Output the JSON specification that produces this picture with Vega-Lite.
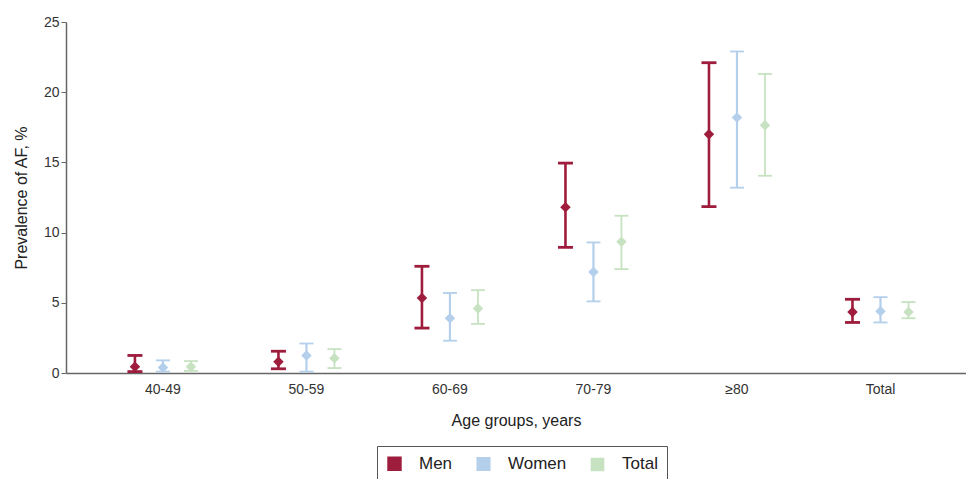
{
  "$schema": "https://vega.github.io/schema/vega-lite/v6.json",
  "autosize": {"type": "none"},
  "padding": {"left": 66, "top": 22, "right": 0, "bottom": 106},
  "width": 900,
  "height": 351,
  "background": "white",
  "config": {
    "font": "Liberation Sans",
    "view": {"stroke": null}
  },
  "data": {
    "values": [
      {"age": "40-49", "group": "Men", "est": 0.45, "lo": 0.1, "hi": 1.25},
      {"age": "40-49", "group": "Women", "est": 0.4, "lo": 0.1, "hi": 0.9},
      {"age": "40-49", "group": "Total", "est": 0.45, "lo": 0.15, "hi": 0.85},
      {"age": "50-59", "group": "Men", "est": 0.8, "lo": 0.3, "hi": 1.55},
      {"age": "50-59", "group": "Women", "est": 1.25, "lo": 0.1, "hi": 2.1},
      {"age": "50-59", "group": "Total", "est": 1.05, "lo": 0.35, "hi": 1.7},
      {"age": "60-69", "group": "Men", "est": 5.35, "lo": 3.2, "hi": 7.6},
      {"age": "60-69", "group": "Women", "est": 3.9, "lo": 2.3, "hi": 5.7},
      {"age": "60-69", "group": "Total", "est": 4.6, "lo": 3.5, "hi": 5.9},
      {"age": "70-79", "group": "Men", "est": 11.8, "lo": 8.95, "hi": 14.95},
      {"age": "70-79", "group": "Women", "est": 7.2, "lo": 5.1, "hi": 9.3},
      {"age": "70-79", "group": "Total", "est": 9.35, "lo": 7.4, "hi": 11.2},
      {"age": "≥80", "group": "Men", "est": 17.0, "lo": 11.85, "hi": 22.1},
      {"age": "≥80", "group": "Women", "est": 18.2, "lo": 13.2, "hi": 22.9},
      {"age": "≥80", "group": "Total", "est": 17.65, "lo": 14.05, "hi": 21.3},
      {"age": "Total", "group": "Men", "est": 4.35, "lo": 3.6, "hi": 5.25},
      {"age": "Total", "group": "Women", "est": 4.4, "lo": 3.6, "hi": 5.4},
      {"age": "Total", "group": "Total", "est": 4.35, "lo": 3.9, "hi": 5.05}
    ]
  },
  "encoding": {
    "x": {
      "field": "age", "type": "nominal", "sort": null,
      "scale": {"paddingInner": 0.4146, "paddingOuter": 0.343, "align": 0.558},
      "axis": {
        "title": "Age groups, years", "labelAngle": 0, "ticks": false,
        "domainColor": "#666", "domainWidth": 1.5, "labelColor": "#333", "labelFontSize": 14,
        "labelPadding": 9, "titleFontSize": 16, "titleFontWeight": "normal", "titleColor": "#222",
        "titlePadding": 16
      }
    },
    "xOffset": {
      "field": "group", "type": "nominal", "sort": ["Men", "Women", "Total"],
      "scale": {"paddingInner": 0, "paddingOuter": 0}
    },
    "color": {
      "field": "group", "type": "nominal", "sort": ["Men", "Women", "Total"],
      "scale": {"domain": ["Men", "Women", "Total"], "range": ["#9e1c3c", "#b3cfeb", "#c6e2c1"]},
      "legend": {
        "title": null, "orient": "none", "legendX": 311, "legendY": 424, "direction": "horizontal",
        "symbolType": "square", "symbolSize": 140, "symbolStrokeWidth": 0,
        "labelFontSize": 17, "labelColor": "#222", "strokeColor": "#555", "padding": 9,
        "columnPadding": 20, "labelOffset": 16
      }
    }
  },
  "layer": [
    {
      "mark": {"type": "rule"},
      "encoding": {
        "y": {
          "field": "lo", "type": "quantitative",
          "scale": {"domain": [0, 25], "nice": false},
          "axis": {
            "title": "Prevalence of AF, %", "values": [0, 5, 10, 15, 20, 25], "grid": false,
            "domainColor": "#666", "domainWidth": 1.5, "tickColor": "#666", "tickSize": 5,
            "labelColor": "#333", "labelFontSize": 14, "titleFontSize": 16, "titleFontWeight": "normal",
            "titleColor": "#222", "titlePadding": 14
          }
        },
        "y2": {"field": "hi"},
        "strokeWidth": {
          "field": "group", "type": "nominal",
          "scale": {"domain": ["Men", "Women", "Total"], "range": [2.6, 1.8, 1.8]},
          "legend": null
        }
      }
    },
    {
      "transform": [{"filter": "datum.group !== 'Men'"}],
      "mark": {"type": "tick", "thickness": 1.8, "size": 14, "opacity": 1},
      "encoding": {"y": {"field": "lo", "type": "quantitative"}}
    },
    {
      "transform": [{"filter": "datum.group !== 'Men'"}],
      "mark": {"type": "tick", "thickness": 1.8, "size": 14, "opacity": 1},
      "encoding": {"y": {"field": "hi", "type": "quantitative"}}
    },
    {
      "transform": [{"filter": "datum.group === 'Men'"}],
      "mark": {"type": "tick", "thickness": 2.8, "size": 15, "opacity": 1},
      "encoding": {"y": {"field": "lo", "type": "quantitative"}}
    },
    {
      "transform": [{"filter": "datum.group === 'Men'"}],
      "mark": {"type": "tick", "thickness": 2.8, "size": 15, "opacity": 1},
      "encoding": {"y": {"field": "hi", "type": "quantitative"}}
    },
    {
      "mark": {"type": "point", "shape": "diamond", "filled": true, "size": 110, "opacity": 1},
      "encoding": {"y": {"field": "est", "type": "quantitative"}}
    }
  ]
}
